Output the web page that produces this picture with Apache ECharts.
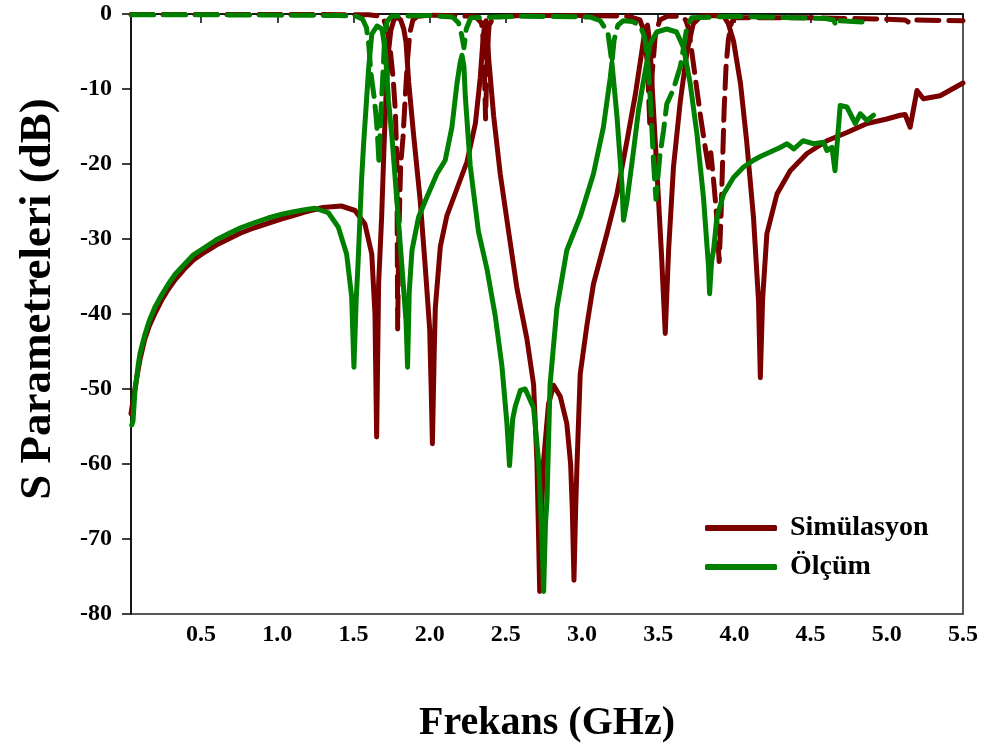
<!DOCTYPE html>
<html>
<head>
<meta charset="utf-8">
<title>S Parametreleri</title>
<script src="https://cdn.jsdelivr.net/npm/echarts@6/dist/echarts.min.js"></script>
<style>
  html, body { margin: 0; padding: 0; background: #fff; }
  #chart { width: 987px; height: 747px; }
</style>
</head>
<body>
<div id="chart"></div>
<script>
// Frequency (GHz) / level (dB) pairs for each trace
const simS21 = [
  [0.04,-53.3],[0.05,-52.0],[0.066,-50.0],[0.088,-47.3],[0.1,-46.0],[0.13,-43.4],[0.16,-41.6],
  [0.2,-39.8],[0.24,-38.2],[0.285,-36.7],[0.33,-35.4],[0.39,-34.0],[0.45,-32.8],[0.52,-31.8],
  [0.6,-30.8],[0.68,-30.0],[0.76,-29.2],[0.85,-28.5],[0.94,-27.9],[1.03,-27.3],[1.1,-26.9],
  [1.18,-26.4],[1.3,-25.8],[1.42,-25.6],[1.51,-26.2],[1.575,-28],[1.62,-32],[1.641,-40],
  [1.652,-56.4],[1.665,-36],[1.685,-27],[1.70,-18],[1.715,-10],[1.73,-5],[1.745,-2.2],
  [1.765,-0.8],[1.785,-0.4],[1.81,-0.8],[1.83,-2],[1.845,-3.8],[1.862,-9],[1.894,-16],
  [1.938,-24.9],[1.971,-33.7],[2.0,-42],[2.01,-50],[2.018,-57.3],[2.03,-45],[2.037,-39.2],
  [2.07,-31],[2.113,-26.9],[2.179,-23.3],[2.245,-19.7],[2.30,-14.6],[2.332,-8.5],[2.35,-3.4],
  [2.362,-1.2],[2.37,-0.9],[2.378,-2],[2.387,-5.9],[2.42,-13.6],[2.463,-21.3],[2.518,-29],
  [2.573,-36.6],[2.638,-43.3],[2.682,-49.4],[2.704,-59.7],[2.715,-70],[2.722,-77],[2.732,-68],
  [2.747,-59.7],[2.78,-52],[2.813,-49.5],[2.857,-51],[2.9,-54.6],[2.925,-60],[2.936,-66],
  [2.947,-75.5],[2.958,-66],[2.967,-60],[2.988,-48],[3.032,-41.5],[3.075,-36],[3.163,-29.3],
  [3.229,-24],[3.295,-16.9],[3.35,-10.7],[3.393,-4.9],[3.415,-1.8],[3.43,-1.5],[3.445,-4],
  [3.459,-9.3],[3.49,-20.4],[3.52,-31.5],[3.546,-42.6],[3.568,-31.5],[3.6,-20.4],[3.645,-11.6],
  [3.69,-4.9],[3.73,-1.3],[3.78,-0.3],[3.85,-0.2],[3.93,-0.3],[3.96,-1.3],[3.994,-3.6],
  [4.04,-9.3],[4.08,-16.9],[4.125,-27.1],[4.158,-38.2],[4.17,-48.5],[4.185,-38],[4.213,-29.3],
  [4.279,-24],[4.366,-20.9],[4.476,-18.6],[4.607,-16.9],[4.738,-15.8],[4.87,-14.6],[5.0,-14],
  [5.088,-13.5],[5.12,-13.4],[5.153,-15.1],[5.198,-10.2],[5.24,-11.3],[5.35,-10.9],[5.5,-9.2]
];

const simS11 = [
  [0.04,-0.05],[1.0,-0.05],[1.6,-0.1],[1.68,-0.3],[1.70,-0.8],[1.72,-2],[1.74,-4.5],[1.76,-8.5],
  [1.775,-13],[1.785,-20],[1.79,-42],[1.797,-30],[1.81,-20],[1.825,-16.5],[1.84,-11],[1.855,-6],
  [1.87,-2.5],[1.89,-0.8],[1.92,-0.3],[2.0,-0.15],[2.3,-0.3],[2.34,-1.2],[2.355,-4],[2.367,-14],
  [2.378,-5],[2.39,-1.5],[2.42,-0.4],[2.6,-0.2],[3.0,-0.2],[3.3,-0.3],[3.38,-0.8],[3.41,-2.5],
  [3.43,-7],[3.445,-15],[3.46,-8],[3.48,-3],[3.51,-0.8],[3.56,-0.3],[3.65,-0.3],[3.68,-0.8],
  [3.70,-2],[3.72,-5],[3.75,-9.5],[3.78,-14],[3.81,-18],[3.83,-20.5],[3.845,-18.5],[3.86,-21.5],
  [3.88,-26],[3.90,-33],[3.912,-27],[3.922,-20],[3.932,-13],[3.945,-7],[3.96,-3.5],[3.98,-1.2],
  [4.0,-0.5],[4.5,-0.5],[5.0,-0.7],[5.12,-0.8],[5.15,-1.2],[5.18,-0.8],[5.5,-0.9]
];

const measS21 = [
  [0.045,-54.8],[0.053,-54.3],[0.066,-50.3],[0.088,-46.7],[0.1,-45.2],[0.132,-42.7],[0.16,-40.9],
  [0.197,-39.1],[0.24,-37.5],[0.285,-36.0],[0.33,-34.7],[0.394,-33.3],[0.45,-32.1],[0.526,-31.1],
  [0.6,-30.1],[0.678,-29.3],[0.76,-28.5],[0.853,-27.8],[0.94,-27.2],[1.03,-26.7],[1.1,-26.4],
  [1.18,-26.1],[1.247,-25.9],[1.335,-26.5],[1.40,-28.4],[1.455,-32],[1.488,-37.7],[1.503,-47.1],
  [1.518,-38],[1.53,-33.3],[1.553,-22.2],[1.566,-17.5],[1.6,-7.1],[1.62,-2.7],[1.654,-1.6],
  [1.687,-2],[1.709,-4.9],[1.73,-11.6],[1.753,-16.5],[1.785,-24.9],[1.818,-33.7],[1.845,-41],
  [1.855,-47.1],[1.866,-37],[1.884,-31.5],[1.927,-27.1],[1.982,-24.4],[2.048,-21.3],
  [2.102,-19.5],[2.146,-15.1],[2.179,-9.3],[2.2,-6.5],[2.212,-5.5],[2.225,-7],[2.234,-11],
  [2.266,-20.2],[2.32,-29],[2.376,-34],[2.43,-40.2],[2.474,-46.9],[2.507,-54.6],[2.524,-60.2],
  [2.545,-54],[2.562,-52.3],[2.595,-50.2],[2.627,-50],[2.66,-51.5],[2.682,-52.5],[2.715,-59.7],
  [2.737,-70],[2.748,-77],[2.76,-68],[2.77,-64.8],[2.79,-49.4],[2.835,-39.2],[2.9,-31.5],
  [2.99,-26.9],[3.075,-21.3],[3.14,-15.1],[3.185,-8.5],[3.196,-6.5],[3.229,-13.6],[3.262,-22.8],
  [3.272,-27.5],[3.295,-24.9],[3.338,-18.2],[3.37,-12.9],[3.4,-9.3],[3.447,-4],[3.49,-2.4],
  [3.556,-2],[3.62,-2.4],[3.666,-4.5],[3.71,-9.3],[3.754,-16],[3.797,-24.5],[3.83,-33.7],
  [3.837,-37.3],[3.85,-33],[3.863,-31.5],[3.885,-27.1],[3.929,-24],[3.994,-21.8],[4.06,-20.4],
  [4.125,-19.5],[4.17,-19.0],[4.235,-18.4],[4.3,-17.8],[4.345,-17.3],[4.39,-18.0],[4.45,-16.9],
  [4.52,-17.3],[4.585,-17.1],[4.607,-18.2],[4.64,-17.8],[4.66,-20.9],[4.694,-12.2],[4.738,-12.4],
  [4.793,-14.6],[4.826,-13.3],[4.87,-14.2],[4.913,-13.5]
];

const measS11 = [
  [0.045,-0.1],[0.5,-0.1],[1.0,-0.15],[1.4,-0.2],[1.52,-0.3],[1.56,-0.7],[1.585,-1.8],[1.60,-4],
  [1.615,-8],[1.635,-11],[1.65,-14],[1.66,-17],[1.668,-20],[1.676,-15],[1.687,-10.5],[1.697,-6.5],
  [1.705,-3],[1.72,-1],[1.75,-0.3],[2.0,-0.2],[2.15,-0.4],[2.19,-1.2],[2.21,-2.8],[2.225,-4.5],
  [2.24,-2],[2.27,-0.5],[2.6,-0.3],[3.05,-0.4],[3.12,-0.9],[3.17,-2.5],[3.196,-6.5],[3.21,-3.5],
  [3.235,-1.5],[3.27,-0.9],[3.33,-1.0],[3.38,-1.5],[3.41,-3],[3.43,-6],[3.45,-12],[3.47,-20],
  [3.485,-24.7],[3.51,-19],[3.535,-15.5],[3.556,-12],[3.6,-10],[3.645,-7],[3.666,-4.5],[3.69,-1.5],
  [3.72,-0.5],[4.0,-0.3],[4.6,-0.6],[4.65,-0.8],[4.67,-1.6],[4.69,-0.9],[4.88,-1.1]
];

const freqTicks = [0.5, 1.0, 1.5, 2.0, 2.5, 3.0, 3.5, 4.0, 4.5, 5.0, 5.5];
const SIM = 'Simülasyon';
const MEAS = 'Ölçüm';

const RED = '#7a0000';
const GREEN = '#008000';
const SERIF = "'Liberation Serif', 'Times New Roman', serif";

const chart = echarts.init(document.getElementById('chart'));

function trace(name, data, color, dashed) {
  return {
    name: name,
    type: 'line',
    data: data,
    showSymbol: false,
    symbol: 'none',
    animation: false,
    itemStyle: { color: color },
    lineStyle: {
      color: color,
      width: 5,
      type: dashed ? [22, 10] : 'solid',
      cap: 'round',
      join: 'round'
    },
    emphasis: { disabled: true }
  };
}

chart.setOption({
  animation: false,
  backgroundColor: '#fff',
  grid: {
    left: 131, right: 24, top: 14, bottom: 133,
    outerBoundsMode: 'none',
    containLabel: false,
    show: true, borderColor: '#222', borderWidth: 1.5, backgroundColor: 'transparent'
  },
  legend: {
    data: [SIM, MEAS],
    orient: 'vertical',
    left: 700, top: 508,
    icon: 'roundRect',
    itemWidth: 72, itemHeight: 6,
    itemGap: 9,
    textStyle: {
      fontFamily: SERIF, fontWeight: 'bold', fontSize: 28, color: '#000',
      lineHeight: 30, padding: [0, 0, 0, 8]
    }
  },
  xAxis: {
    type: 'value',
    min: 0.04, max: 5.5,
    name: 'Frekans (GHz)',
    nameLocation: 'middle',
    nameGap: 90,
    nameTextStyle: { fontFamily: SERIF, fontWeight: 'bold', fontSize: 40, color: '#000' },
    axisLine: { show: true, lineStyle: { color: '#000', width: 1.5 } },
    axisTick: { show: true, length: 9, customValues: freqTicks, lineStyle: { color: '#000', width: 1.5 } },
    axisLabel: {
      customValues: freqTicks,
      margin: 9,
      fontFamily: SERIF, fontWeight: 'bold', fontSize: 24, color: '#000',
      formatter: v => v.toFixed(1)
    },
    splitLine: { show: false }
  },
  yAxis: {
    type: 'value',
    min: -80, max: 0, interval: 10,
    name: 'S Parametreleri (dB)',
    nameLocation: 'middle',
    nameGap: 70,
    nameRotate: 90,
    nameTextStyle: {
      fontFamily: SERIF, fontWeight: 'bold', fontSize: 45, color: '#000',
      padding: [0, 0, 0, 30]
    },
    axisLine: { show: true, lineStyle: { color: '#000', width: 1.5 } },
    axisTick: { show: true, length: 9, lineStyle: { color: '#000', width: 1.5 } },
    axisLabel: {
      margin: 19,
      fontFamily: SERIF, fontWeight: 'bold', fontSize: 24, color: '#000'
    },
    splitLine: { show: false }
  },
  series: [
    trace(SIM, simS21, RED, false),
    trace(SIM, simS11, RED, true),
    trace(MEAS, measS21, GREEN, false),
    trace(MEAS, measS11, GREEN, true)
  ]
});
</script>
</body>
</html>
